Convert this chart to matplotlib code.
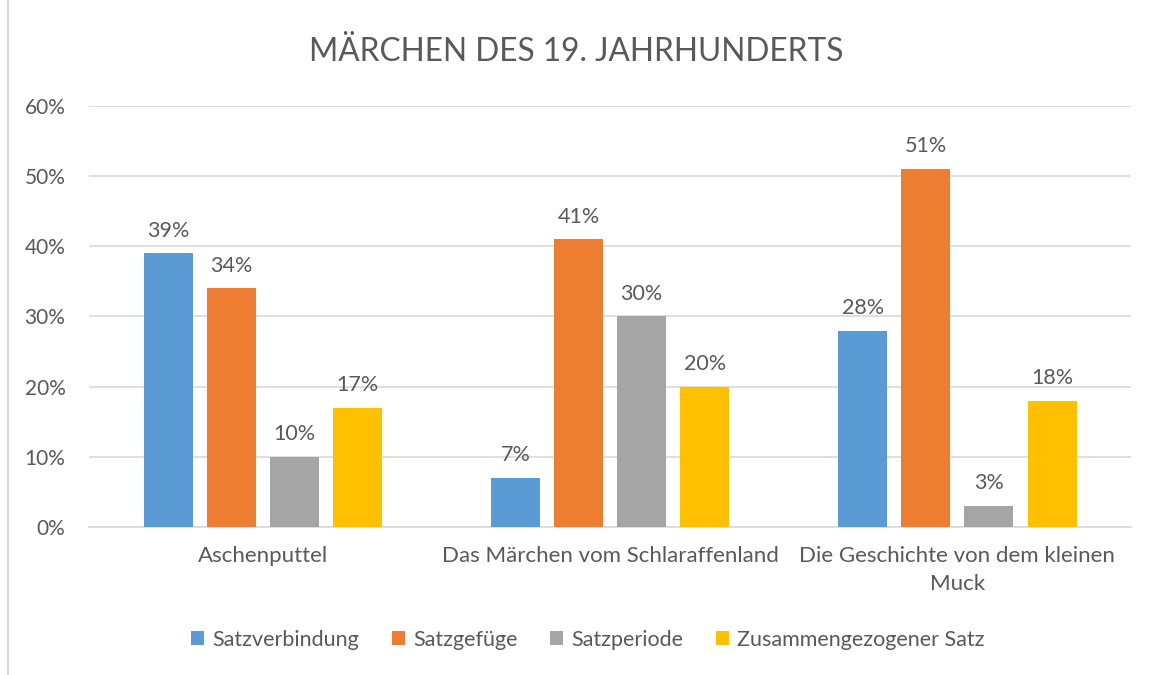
import numpy as np
import matplotlib.pyplot as plt
from matplotlib.lines import Line2D
from matplotlib.ticker import PercentFormatter

plt.rcParams['font.family'] = ['Lato', 'DejaVu Sans']

categories = ["Aschenputtel", "Das Märchen vom Schlaraffenland",
              "Die Geschichte von dem kleinen\nMuck"]
series = ["Satzverbindung", "Satzgefüge", "Satzperiode", "Zusammengezogener Satz"]
satzverbindung = [39, 7, 28]
satzgefuege = [34, 41, 51]
satzperiode = [10, 30, 3]
zusammengezogen = [17, 20, 18]
values = [satzverbindung, satzgefuege, satzperiode, zusammengezogen]
colors = ["#5B9BD5", "#ED7D31", "#A5A5A5", "#FFC000"]
text_color = "#595959"

fig = plt.figure(figsize=(11.53, 6.75), dpi=100)
ax = fig.add_axes([0.0772, 0.2193, 0.9038, 0.6237])

x = np.arange(len(categories))
width = 0.141
step = 0.1816
for i, (name, vals, c) in enumerate(zip(series, values, colors)):
    pos = x + (i - 1.5) * step
    bars = ax.bar(pos, vals, width, color=c, label=name, zorder=3)
    for b, v in zip(bars, vals):
        ax.text(b.get_x() + b.get_width() / 2, v + 1.8, f"{v}%",
                ha="center", va="bottom", fontsize=15.5, color=text_color)

ax.set_xlim(-0.5, 2.5)
ax.set_ylim(0, 60)
ax.set_yticks(range(0, 61, 10))
ax.yaxis.set_major_formatter(PercentFormatter(decimals=0))
ax.set_xticks(x)
ax.set_xticklabels(categories, fontsize=16, color=text_color, linespacing=1.5)
ax.tick_params(axis="y", labelsize=15, labelcolor=text_color, length=0, pad=17)
ax.tick_params(axis="x", length=0, pad=14)
ax.grid(axis="y", color="#D9D9D9", linewidth=1.2, zorder=0)
for s in ["top", "right", "left"]:
    ax.spines[s].set_visible(False)
ax.spines["bottom"].set_color("#D9D9D9")
ax.spines["bottom"].set_linewidth(1.2)

fig.suptitle("MÄRCHEN DES 19. JAHRHUNDERTS", fontsize=22.8, color=text_color,
             y=0.945)

fig.legend(loc="center", bbox_to_anchor=(0.51, 0.052), ncol=4, frameon=False,
           fontsize=15.5, labelcolor=text_color, handlelength=0.6,
           handleheight=0.6, handletextpad=0.4, columnspacing=1.5)

fig.add_artist(Line2D([8 / 1153, 8 / 1153], [0, 1], color="#D9D9D9",
                      linewidth=1.5, transform=fig.transFigure))

fig.savefig("out.png", dpi=100)
